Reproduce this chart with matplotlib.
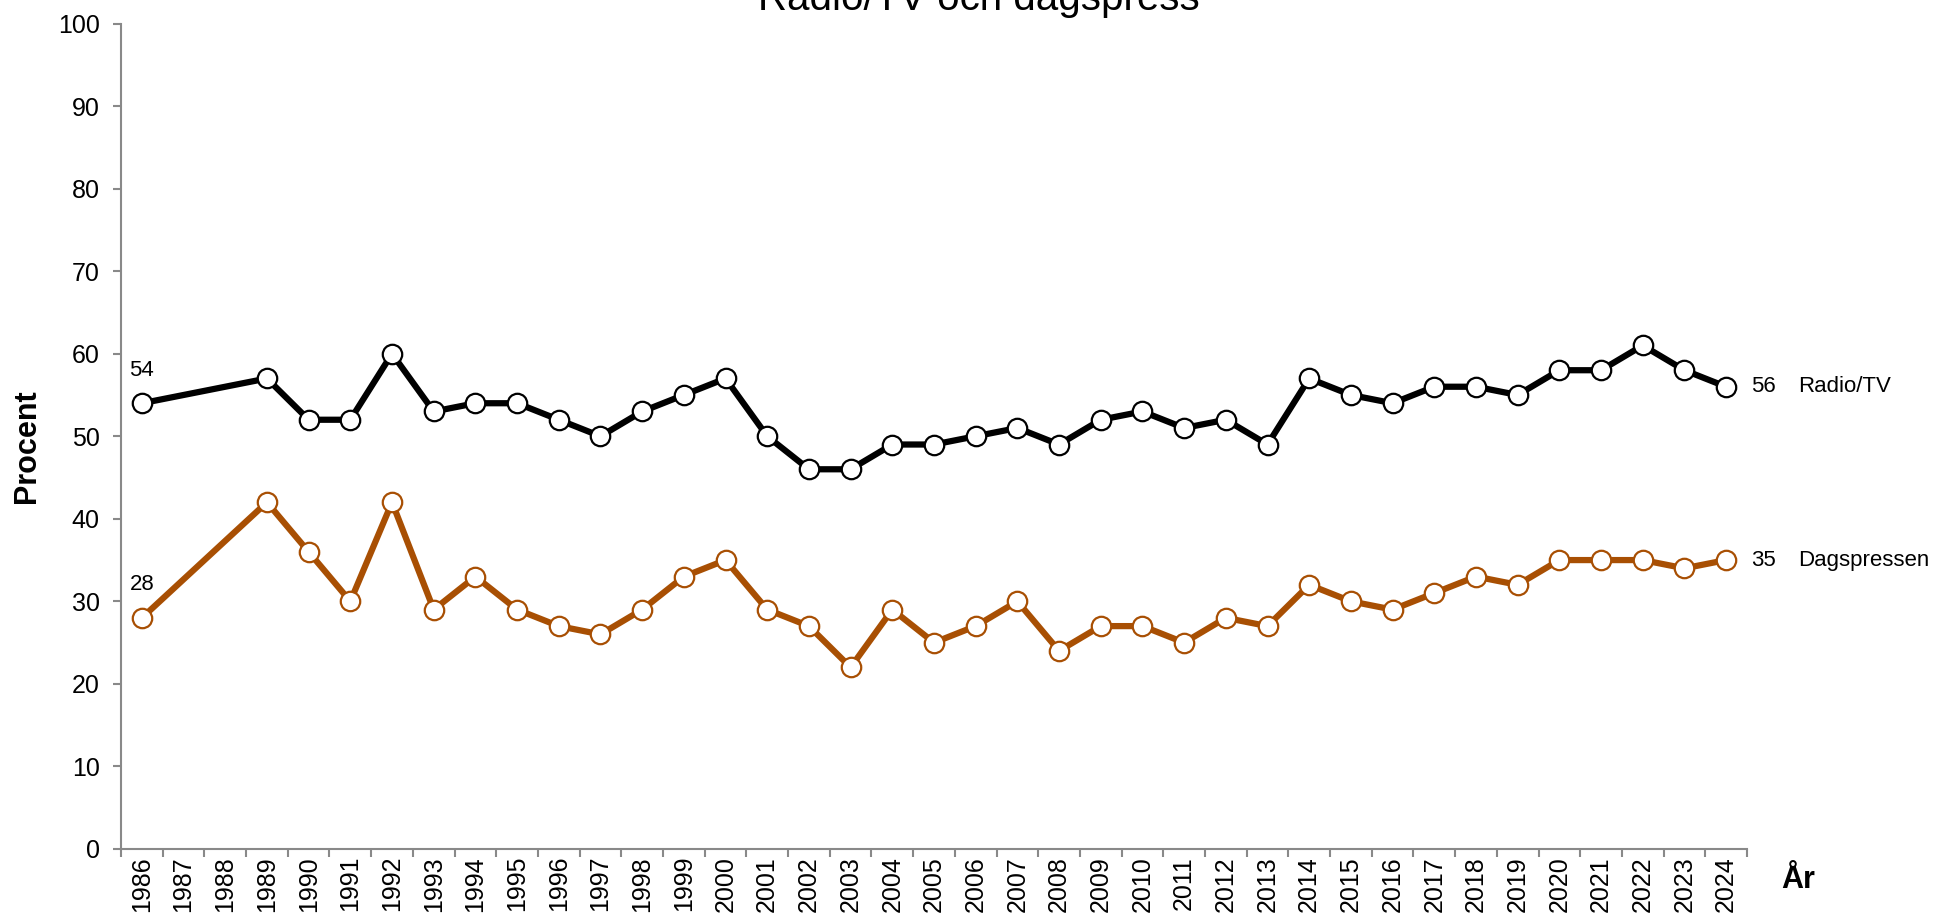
import matplotlib

matplotlib.use("Agg")
import matplotlib.pyplot as plt
import numpy as np

plt.rcParams["font.family"] = ["Liberation Sans", "DejaVu Sans"]

YEARS = list(range(1986, 2025))
RADIO_YEARS = [1986] + list(range(1989, 2025))
RADIO_TV = [54, 57, 52, 52, 60, 53, 54, 54, 52, 50, 53, 55, 57, 50, 46, 46, 49, 49,
            50, 51, 49, 52, 53, 51, 52, 49, 57, 55, 54, 56, 56, 55, 58, 58, 61, 58, 56]
DAGSPRESS = [28, 42, 36, 30, 42, 29, 33, 29, 27, 26, 29, 33, 35, 29, 27, 22, 29, 25,
             27, 30, 24, 27, 27, 25, 28, 27, 32, 30, 29, 31, 33, 32, 35, 35, 35, 34, 35]
SERIES = [("Radio/TV", RADIO_TV, "#000000"), ("Dagspressen", DAGSPRESS, "#A84F03")]

fig = plt.figure(figsize=(19.43, 9.23), dpi=100)
ax = fig.add_axes([0.0623, 0.0802, 0.8368, 0.8943])

x = np.array([YEARS.index(y) for y in RADIO_YEARS])
for name, vals, col in SERIES:
    ax.plot(x, vals, color=col, lw=4.5, marker="o", ms=14, mfc="white",
            mec=col, mew=1.6, zorder=3)
    ax.text(x[0], vals[0] + 4, str(vals[0]), ha="center", va="center", fontsize=16)
    ax.text(x[-1] + 0.6, vals[-1], str(vals[-1]), ha="left", va="center", fontsize=16)
    ax.text(x[-1] + 1.72, vals[-1], name, ha="left", va="center", fontsize=16)

ax.set_xlim(-0.5, len(YEARS) - 0.5)
ax.set_ylim(0, 100)
ax.set_yticks(range(0, 101, 10))
ax.set_xticks(range(len(YEARS)))
ax.set_xticklabels([str(y) for y in YEARS], rotation=90, fontsize=18)
ax.set_xticks(np.arange(-0.5, len(YEARS)), minor=True)
ax.tick_params(axis="x", which="major", length=0, pad=5)
ax.tick_params(axis="x", which="minor", length=6, width=1.5, color="#898989")
ax.tick_params(axis="y", length=5.5, width=1.5, color="#898989", labelsize=18, pad=10)

for s in ("top", "right"):
    ax.spines[s].set_visible(False)
for s in ("left", "bottom"):
    ax.spines[s].set_color("#898989")
    ax.spines[s].set_linewidth(1.5)

fig.text(27 / 1943, 1 - 446 / 923, "Procent", rotation=90, ha="center", va="center",
         fontsize=22, fontweight="bold")
fig.text(1798 / 1943, 1 - 880 / 923, "År", ha="center", va="center",
         fontsize=22, fontweight="bold")
fig.text(979 / 1943, 1 - 10 / 923, "Radio/TV och dagspress", ha="center",
         va="baseline", fontsize=29)

fig.savefig("out.png", dpi=100)
